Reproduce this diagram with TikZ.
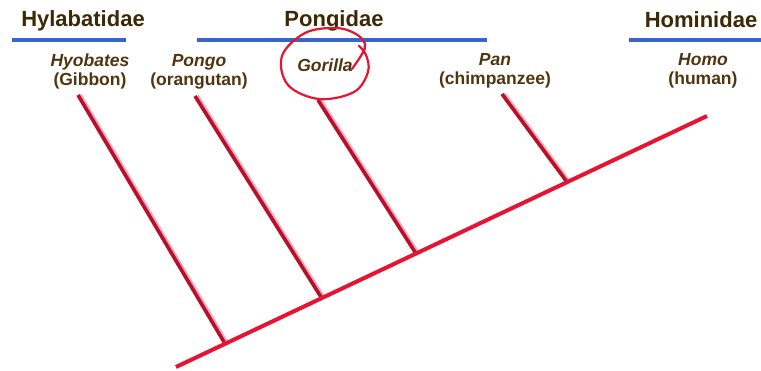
\documentclass[tikz,border=0pt]{standalone}
\usepackage{fontspec}
\setmainfont{Liberation Sans}
\usepackage{tikz}
\usetikzlibrary{positioning}
\definecolor{famtext}{RGB}{60,40,5}
\definecolor{gentext}{RGB}{80,52,15}
\definecolor{famline}{RGB}{55,100,205}
\definecolor{treered}{RGB}{230,20,50}
\definecolor{treeglow}{RGB}{245,165,190}

\begin{document}
\begin{tikzpicture}[x=1pt, y=-1pt,
    family/.style={font=\fontsize{22}{26}\selectfont\bfseries, text=famtext, anchor=base, inner sep=0pt},
    genus/.style={font=\fontsize{17.5}{19}\selectfont\bfseries, text=gentext, align=center, anchor=base, inner sep=0pt},
    famrule/.style={famline, line width=3.5pt},
    trunk/.style={treered, line width=4pt},
    twig/.style={treered!80!black, line width=3.6pt},
    glow/.style={treeglow, line width=4pt}]
    \useasboundingbox (0,0) rectangle (761,371);

    \node[family] (hyla) at (83,27)  {Hylabatidae};
    \node[family] (pong) at (334,27) {Pongidae};
    \node[family] (homi) at (701,28) {Hominidae};

    \draw[famrule] (12,40)  -- (126,40);
    \draw[famrule] (197,40) -- (487,40);
    \draw[famrule] (629,40) -- (761,40);

    \node[genus] (hyob)  at (90,86)  {\textit{Hyobates}\\(Gibbon)};
    \node[genus] (pongo) at (199,86) {\textit{Pongo}\\(orangutan)};
    \node[genus] (gor)   at (325,72) {\textit{Gorilla}};
    \node[genus] (pan)   at (495,85) {\textit{Pan}\\(chimpanzee)};
    \node[genus] (homo)  at (703,85) {\textit{Homo}\\(human)};

    \coordinate (root) at (176,367);
    \coordinate (tip)  at (707,116);
    \coordinate (hyob top)  at (78,95);   \coordinate (hyob foot)  at (224,342);
    \coordinate (pongo top) at (195,96);  \coordinate (pongo foot) at (321,297);
    \coordinate (gor top)   at (318,100); \coordinate (gor foot)   at (415,252);
    \coordinate (pan top)   at (502,94);  \coordinate (pan foot)   at (567,182);

    \foreach \g in {hyob, pongo, gor, pan} {
        \draw[glow] ([xshift=2pt]\g\space top) -- ([xshift=2pt]\g\space foot);
        \draw[twig] (\g\space top) -- (\g\space foot);
    }
    \draw[trunk] (root) -- (tip);

    \draw[treered, line width=2.2pt, line cap=round] plot[smooth, tension=0.6] coordinates {
        (352,69) (362,54) (365,44) (356,34) (336,28) (305,33) (282,56) (288,85)
        (319,99) (354,92) (368,72) (366,55) (359,46)};
\end{tikzpicture}
\end{document}
